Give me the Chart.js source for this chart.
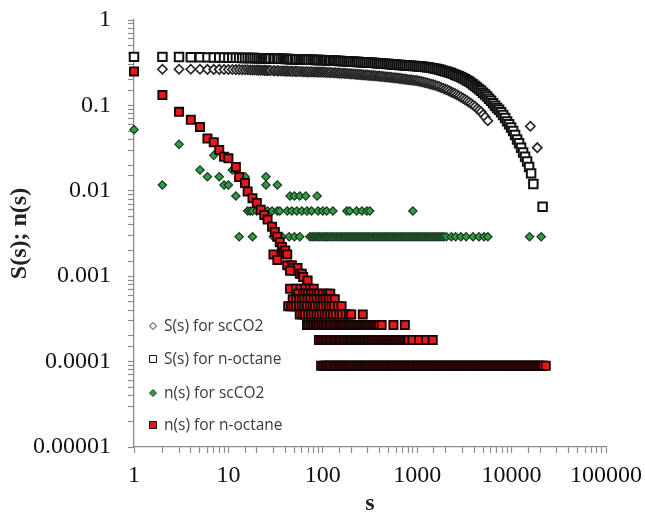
<!DOCTYPE html>
<html>
<head>
<meta charset="utf-8">
<script src="https://cdn.jsdelivr.net/npm/chart.js@4/dist/chart.umd.min.js"></script>
<style>
  html, body { margin: 0; padding: 0; background: #fff; }
  canvas { display: block; }
</style>
</head>
<body>
<canvas id="chart" width="645" height="516"></canvas>
<script>
// tick labels (powers of ten)
const xTickLabels = ['1', '10', '100', '1000', '10000', '100000'];
const yTickLabels = ['1', '0.1', '0.01', '0.001', '0.0001', '0.00001'];

const seriesNames = ['S(s) for scCO2', 'S(s) for n-octane', 'n(s) for scCO2', 'n(s) for n-octane'];

// S(s) for scCO2 (open diamonds)
const co2S_x = [2, 3, 4, 5, 6, 7, 8, 9, 10, 11, 12, 13, 14, 15, 16, 17, 18, 19,
  20, 21, 22, 23, 24, 25, 26, 27, 28, 30, 31, 33, 34, 36, 38, 40, 42, 44, 46, 48, 51, 53, 56, 59, 62, 65, 68, 71, 75, 79, 83, 87, 91, 96,
  101, 106, 111, 117, 122, 129, 135, 142, 149, 156, 164, 172, 181, 190, 199, 209, 220, 231, 242, 254, 267, 280, 294, 309, 325, 341, 358, 376, 395,
  414, 435, 457, 480, 504, 529, 555, 583, 612, 643, 675, 709, 744, 781, 820, 861, 904, 950, 997,
  1047, 1099, 1154, 1212, 1273, 1336, 1403, 1473, 1547, 1624, 1705, 1791, 1880, 1974, 2073, 2177, 2286, 2400, 2520, 2646, 2778, 2917,
  3063, 3216, 3377, 3546, 3723, 3909, 4105, 4310, 4525, 4752, 4989, 5239, 5600, 15800, 18700];
const co2S_y = [0.265, 0.265, 0.265, 0.265, 0.264, 0.264, 0.264, 0.263, 0.263, 0.263, 0.262, 0.262, 0.261, 0.261, 0.261, 0.260, 0.260, 0.260,
  0.259, 0.259, 0.258, 0.258, 0.257, 0.257, 0.256, 0.256, 0.256, 0.255, 0.255, 0.254, 0.254, 0.253, 0.253, 0.252, 0.252, 0.251, 0.251, 0.250, 0.250, 0.250, 0.249, 0.249, 0.248, 0.248, 0.247, 0.247, 0.247, 0.246, 0.246, 0.246, 0.245, 0.245,
  0.245, 0.244, 0.243, 0.243, 0.242, 0.241, 0.241, 0.240, 0.239, 0.238, 0.238, 0.237, 0.236, 0.235, 0.234, 0.233, 0.232, 0.231, 0.230, 0.229, 0.228, 0.227, 0.226, 0.225, 0.224, 0.223, 0.222, 0.221, 0.220,
  0.219, 0.218, 0.216, 0.215, 0.214, 0.213, 0.211, 0.210, 0.209, 0.207, 0.206, 0.204, 0.203, 0.201, 0.200, 0.199, 0.197, 0.196, 0.195,
  0.192, 0.190, 0.188, 0.185, 0.183, 0.180, 0.177, 0.175, 0.172, 0.169, 0.166, 0.162, 0.159, 0.155, 0.152, 0.148, 0.144, 0.140, 0.137, 0.133, 0.129, 0.125,
  0.121, 0.117, 0.113, 0.109, 0.105, 0.101, 0.097, 0.092, 0.088, 0.084, 0.078, 0.073, 0.066, 0.057, 0.032];

// S(s) for n-octane (open squares)
const octS_x = [1, 2, 3, 4, 5, 6, 7, 8, 9, 10, 11, 12, 13, 14, 15, 16, 17, 18, 19,
  20, 21, 22, 23, 24, 25, 26, 27, 28, 30, 31, 33, 34, 36, 38, 40, 42, 44, 46, 48, 51, 53, 56, 59, 62, 65, 68, 71, 75, 79, 83, 87, 91, 96,
  101, 106, 111, 117, 122, 129, 135, 142, 149, 156, 164, 172, 181, 190, 199, 209, 220, 231, 242, 254, 267, 280, 294, 309, 325, 341, 358, 376, 395,
  414, 435, 457, 480, 504, 529, 555, 583, 612, 643, 675, 709, 744, 781, 820, 861, 904, 950, 997,
  1047, 1099, 1154, 1212, 1273, 1336, 1403, 1473, 1547, 1624, 1705, 1791, 1880, 1974, 2073, 2177, 2286, 2400, 2520, 2646, 2778, 2917,
  3063, 3216, 3377, 3546, 3723, 3909, 4105, 4310, 4525, 4752, 4989, 5239, 5501, 5776, 6065, 6368, 6686, 7021, 7372, 7740,
  8127, 8534, 8960, 9408, 9879, 10373, 10891, 11436, 12008, 12608, 13239, 13900, 14595, 15325, 16092, 17000, 21300];
const octS_y = [0.370, 0.370, 0.368, 0.367, 0.366, 0.365, 0.364, 0.364, 0.363, 0.362, 0.362, 0.361, 0.361, 0.360, 0.360, 0.359, 0.359, 0.358, 0.358,
  0.357, 0.357, 0.356, 0.356, 0.355, 0.355, 0.355, 0.354, 0.354, 0.353, 0.353, 0.352, 0.352, 0.351, 0.351, 0.350, 0.349, 0.349, 0.348, 0.348, 0.347, 0.347, 0.346, 0.345, 0.345, 0.344, 0.344, 0.343, 0.342, 0.342, 0.341, 0.341, 0.340, 0.340,
  0.339, 0.338, 0.337, 0.337, 0.336, 0.335, 0.334, 0.333, 0.332, 0.331, 0.330, 0.329, 0.328, 0.327, 0.326, 0.325, 0.324, 0.323, 0.322, 0.321, 0.320, 0.319, 0.318, 0.317, 0.316, 0.315, 0.314, 0.312, 0.311,
  0.310, 0.309, 0.307, 0.306, 0.305, 0.303, 0.302, 0.301, 0.299, 0.298, 0.297, 0.295, 0.294, 0.293, 0.292, 0.291, 0.290, 0.289, 0.288,
  0.286, 0.285, 0.283, 0.281, 0.279, 0.277, 0.275, 0.272, 0.269, 0.266, 0.263, 0.259, 0.255, 0.251, 0.247, 0.243, 0.239, 0.234, 0.229, 0.224, 0.219, 0.214,
  0.208, 0.202, 0.196, 0.190, 0.183, 0.176, 0.169, 0.162, 0.155, 0.148, 0.141, 0.134, 0.127, 0.120, 0.113, 0.106, 0.099, 0.093, 0.089, 0.083,
  0.077, 0.071, 0.065, 0.060, 0.055, 0.050, 0.045, 0.040, 0.036, 0.032, 0.028, 0.025, 0.022, 0.019, 0.016, 0.012, 0.0065];

// n(s) for scCO2 (green diamonds), scattered points
const co2N_x = [1, 2, 3, 5, 6, 7, 8, 9, 10, 11, 12, 15, 25, 25, 33, 45, 50, 57, 66, 87,
  13, 18, 30, 33, 37, 44, 50, 57];
const co2N_y = [0.052, 0.0117, 0.035, 0.0175, 0.0146, 0.026, 0.0146, 0.0117, 0.0117, 0.0175, 0.0087, 0.0146, 0.0146, 0.0117, 0.0117, 0.0087, 0.0087, 0.0087, 0.0087, 0.0087,
  0.0029, 0.0029, 0.0029, 0.0029, 0.0029, 0.0029, 0.0029, 0.0029];
// n(s) for scCO2, rows of equal value
const co2N_rowLevels = [0.0058, 0.0029];
const co2N_rows = [
  [16, 17, 18, 20, 23, 26, 29, 33, 35, 42, 47, 53, 60, 68, 76, 89, 100, 110, 128, 180, 193, 228, 260, 293, 315, 900],
  [73, 77, 81, 85, 89, 93, 98, 103, 108, 113, 119, 125, 131, 138, 145, 152, 160, 168, 176, 185, 194, 204, 214, 225, 236, 248, 260, 273, 287, 301,
   316, 332, 349, 366, 384, 404, 424, 445, 467, 490, 515, 541, 568, 596, 626, 657, 690, 725, 761, 799, 839, 881, 925, 971,
   1020, 1071, 1124, 1180, 1239, 1301, 1366, 1435, 1506, 1582, 1661, 1744, 1831, 1920, 2040, 2300, 2550, 2900, 3300, 3900, 4500, 5100, 5600, 15500, 20600]
];

// n(s) for n-octane (red squares), scattered points
const octN_x = [1, 2, 3, 4, 5, 6, 7, 8, 9, 10, 12, 13, 15, 16, 18, 20, 22, 24, 26, 29, 31, 33, 35, 37, 38,
  30, 33, 40, 42, 42, 47, 48, 53, 54, 57, 60, 62, 68, 69, 45];
const octN_y = [0.25, 0.132, 0.084, 0.068, 0.056, 0.041, 0.037, 0.030, 0.025, 0.024, 0.019, 0.0145, 0.0123, 0.0098, 0.0082, 0.0072, 0.0060, 0.0052, 0.0046, 0.0038, 0.0033, 0.0029, 0.0025, 0.0022, 0.0019,
  0.0018, 0.00155, 0.0020, 0.0018, 0.00134, 0.00134, 0.00125, 0.00116, 0.00125, 0.00107, 0.00107, 0.00098, 0.00080, 0.00089, 0.00116];
// n(s) for n-octane, rows of equal value (1..8 clusters)
const octN_rowLevels = [0.000714, 0.000625, 0.000536, 0.000446, 0.000357, 0.000268, 0.000179, 0.0000893];
const octN_rows = [
  [45, 52, 58, 65, 73, 80],
  [55, 62, 66, 70, 75, 80, 86, 92, 100, 108, 115, 120],
  [48, 52, 56, 60, 64, 69, 74, 80, 86, 93, 100, 107, 115, 124, 134],
  [43, 46, 49, 52, 56, 60, 64, 68, 73, 78, 83, 89, 95, 101, 108, 116, 124, 132, 145, 158],
  [57, 61, 65, 70, 75, 80, 86, 92, 98, 105, 112, 120, 128, 137, 150, 160, 175, 190, 200, 265],
  [68, 71, 75, 79, 83, 87, 91, 96, 101, 106, 111, 117, 122, 129, 135, 142, 149, 156, 164, 172, 181, 190, 199, 209, 220, 231, 242, 254, 267, 280,
   294, 309, 325, 341, 358, 376, 395, 420, 560, 740],
  [91, 96, 101, 106, 111, 117, 122, 129, 135, 142, 149, 156, 164, 172, 181, 190, 199, 209, 220, 231, 242, 254, 267, 280, 294, 309, 325, 341, 358,
   376, 395, 414, 435, 457, 480, 504, 529, 555, 583, 612, 643, 675, 709, 744, 781, 810, 890, 1050, 1240, 1460],
  [96, 101, 106, 111, 117, 122, 129, 135, 142, 149, 156, 164, 172, 181, 190, 199, 209, 220, 231, 242, 254, 267, 280, 294, 309, 325, 341, 358, 376,
   395, 414, 435, 457, 480, 504, 529, 555, 583, 612, 643, 675, 709, 744, 781, 820, 861, 904, 950, 997, 1047, 1099, 1154, 1212, 1273, 1336, 1403,
   1473, 1547, 1624, 1705, 1791, 1880, 1974, 2073, 2177, 2286, 2400, 2520, 2646, 2778, 2917, 3063, 3216, 3377, 3546, 3723, 3909, 4105, 4310,
   4525, 4752, 4989, 5239, 5501, 5776, 6065, 6368, 6686, 7021, 7372, 7740, 8127, 8534, 8960, 9408, 9879, 10373, 10891, 11436, 12008, 12608,
   13239, 13900, 14595, 15325, 16092, 16896, 17741, 18628, 19560, 20538, 21565, 23000]
];

const pts = (xs, ys) => xs.map((x, i) => ({ x, y: ys[i] }));
const rowPts = (rows, levels) => rows.flatMap((row, i) => row.map((x) => ({ x, y: levels[i] })));

const AXIS = '#8c8c8c';

// labels only on the powers of ten
function powLabel(v, labels, neg) {
  const e = Math.log10(v);
  const r = Math.round(e);
  if (Math.abs(e - r) > 1e-6) return '';
  return labels[neg ? -r : r];
}

// legend drawn inside the plot, lower left
const innerLegend = {
  id: 'innerLegend',
  afterDatasetsDraw(chart) {
    const ctx = chart.ctx;
    const x0 = chart.chartArea.left + 19;
    const rowY = [326, 359, 393, 425];
    ctx.save();
    chart.data.datasets.forEach((ds, i) => {
      const y = rowY[i];
      ctx.beginPath();
      if (ds.pointStyle === 'rectRot') {
        ctx.moveTo(x0 - 3.5, y); ctx.lineTo(x0, y - 3.5); ctx.lineTo(x0 + 3.5, y); ctx.lineTo(x0, y + 3.5);
      } else {
        ctx.rect(x0 - 3.5, y - 3.5, 7, 7);
      }
      ctx.closePath();
      ctx.fillStyle = ds.backgroundColor;
      ctx.fill();
      ctx.lineWidth = 1;
      ctx.strokeStyle = ds.borderColor;
      ctx.stroke();
      ctx.fillStyle = '#3a3a3a';
      ctx.font = '15.5px "Open Sans"';
      ctx.textBaseline = 'middle';
      ctx.textAlign = 'left';
      ctx.fillText(seriesNames[i], x0 + 11, y + 1);
    });
    ctx.restore();
  }
};

new Chart(document.getElementById('chart'), {
  type: 'scatter',
  data: {
    datasets: [
      { label: seriesNames[0], data: pts(co2S_x, co2S_y), pointStyle: 'rectRot', pointRadius: 4.6,
        backgroundColor: '#ffffff', borderColor: '#262626', borderWidth: 1.7, order: 3, clip: false },
      { label: seriesNames[1], data: pts(octS_x, octS_y), pointStyle: 'rect', pointRadius: 6,
        backgroundColor: '#ffffff', borderColor: '#111111', borderWidth: 2, order: 2, clip: false },
      { label: seriesNames[2], data: pts(co2N_x, co2N_y).concat(rowPts(co2N_rows, co2N_rowLevels)), pointStyle: 'rectRot', pointRadius: 4.2,
        backgroundColor: '#2f9d48', borderColor: '#1c3a20', borderWidth: 1.2, order: 1, clip: false },
      { label: seriesNames[3], data: pts(octN_x, octN_y).concat(rowPts(octN_rows, octN_rowLevels)), pointStyle: 'rect', pointRadius: 5.8,
        backgroundColor: '#e3191c', borderColor: '#160404', borderWidth: 1.8, order: 0, clip: false }
    ]
  },
  options: {
    responsive: false,
    animation: false,
    layout: { padding: { top: 20, right: 39, left: 0, bottom: 0 } },
    plugins: { legend: { display: false }, tooltip: { enabled: false } },
    scales: {
      x: {
        type: 'logarithmic',
        min: 1, max: 100000,
        afterFit: (s) => { s.height = 69; s.paddingLeft = 0; s.paddingRight = 0; },
        border: { display: true, color: AXIS, width: 1.3 },
        grid: { drawOnChartArea: false, drawTicks: true, tickLength: 6, color: AXIS, tickWidth: 1.2 },
        ticks: {
          autoSkip: false, maxRotation: 0, padding: 8, color: '#111',
          font: { family: '"Liberation Serif"', size: 24 },
          callback: (v) => powLabel(v, xTickLabels, false)
        },
        title: { display: true, text: 's', color: '#222', padding: { top: 0, bottom: 0 },
          font: { family: '"Liberation Serif"', size: 24, weight: 'bold', lineHeight: 1 } }
      },
      y: {
        type: 'logarithmic',
        min: 0.00001, max: 1,
        afterFit: (s) => { s.width = 134; s.paddingTop = 0; s.paddingBottom = 0; },
        border: { display: true, color: AXIS, width: 1.3 },
        grid: { drawOnChartArea: false, drawTicks: true, tickLength: 6, color: AXIS, tickWidth: 1.2 },
        ticks: {
          autoSkip: false, padding: 17, color: '#111',
          font: { family: '"Liberation Serif"', size: 24 },
          callback: (v) => powLabel(v, yTickLabels, true)
        },
        title: { display: true, text: 'S(s); n(s)', color: '#222', padding: { top: 8, bottom: 0 },
          font: { family: '"Liberation Serif"', size: 24, weight: 'bold', lineHeight: 1 } }
      }
    }
  },
  plugins: [innerLegend]
});
</script>
</body>
</html>
